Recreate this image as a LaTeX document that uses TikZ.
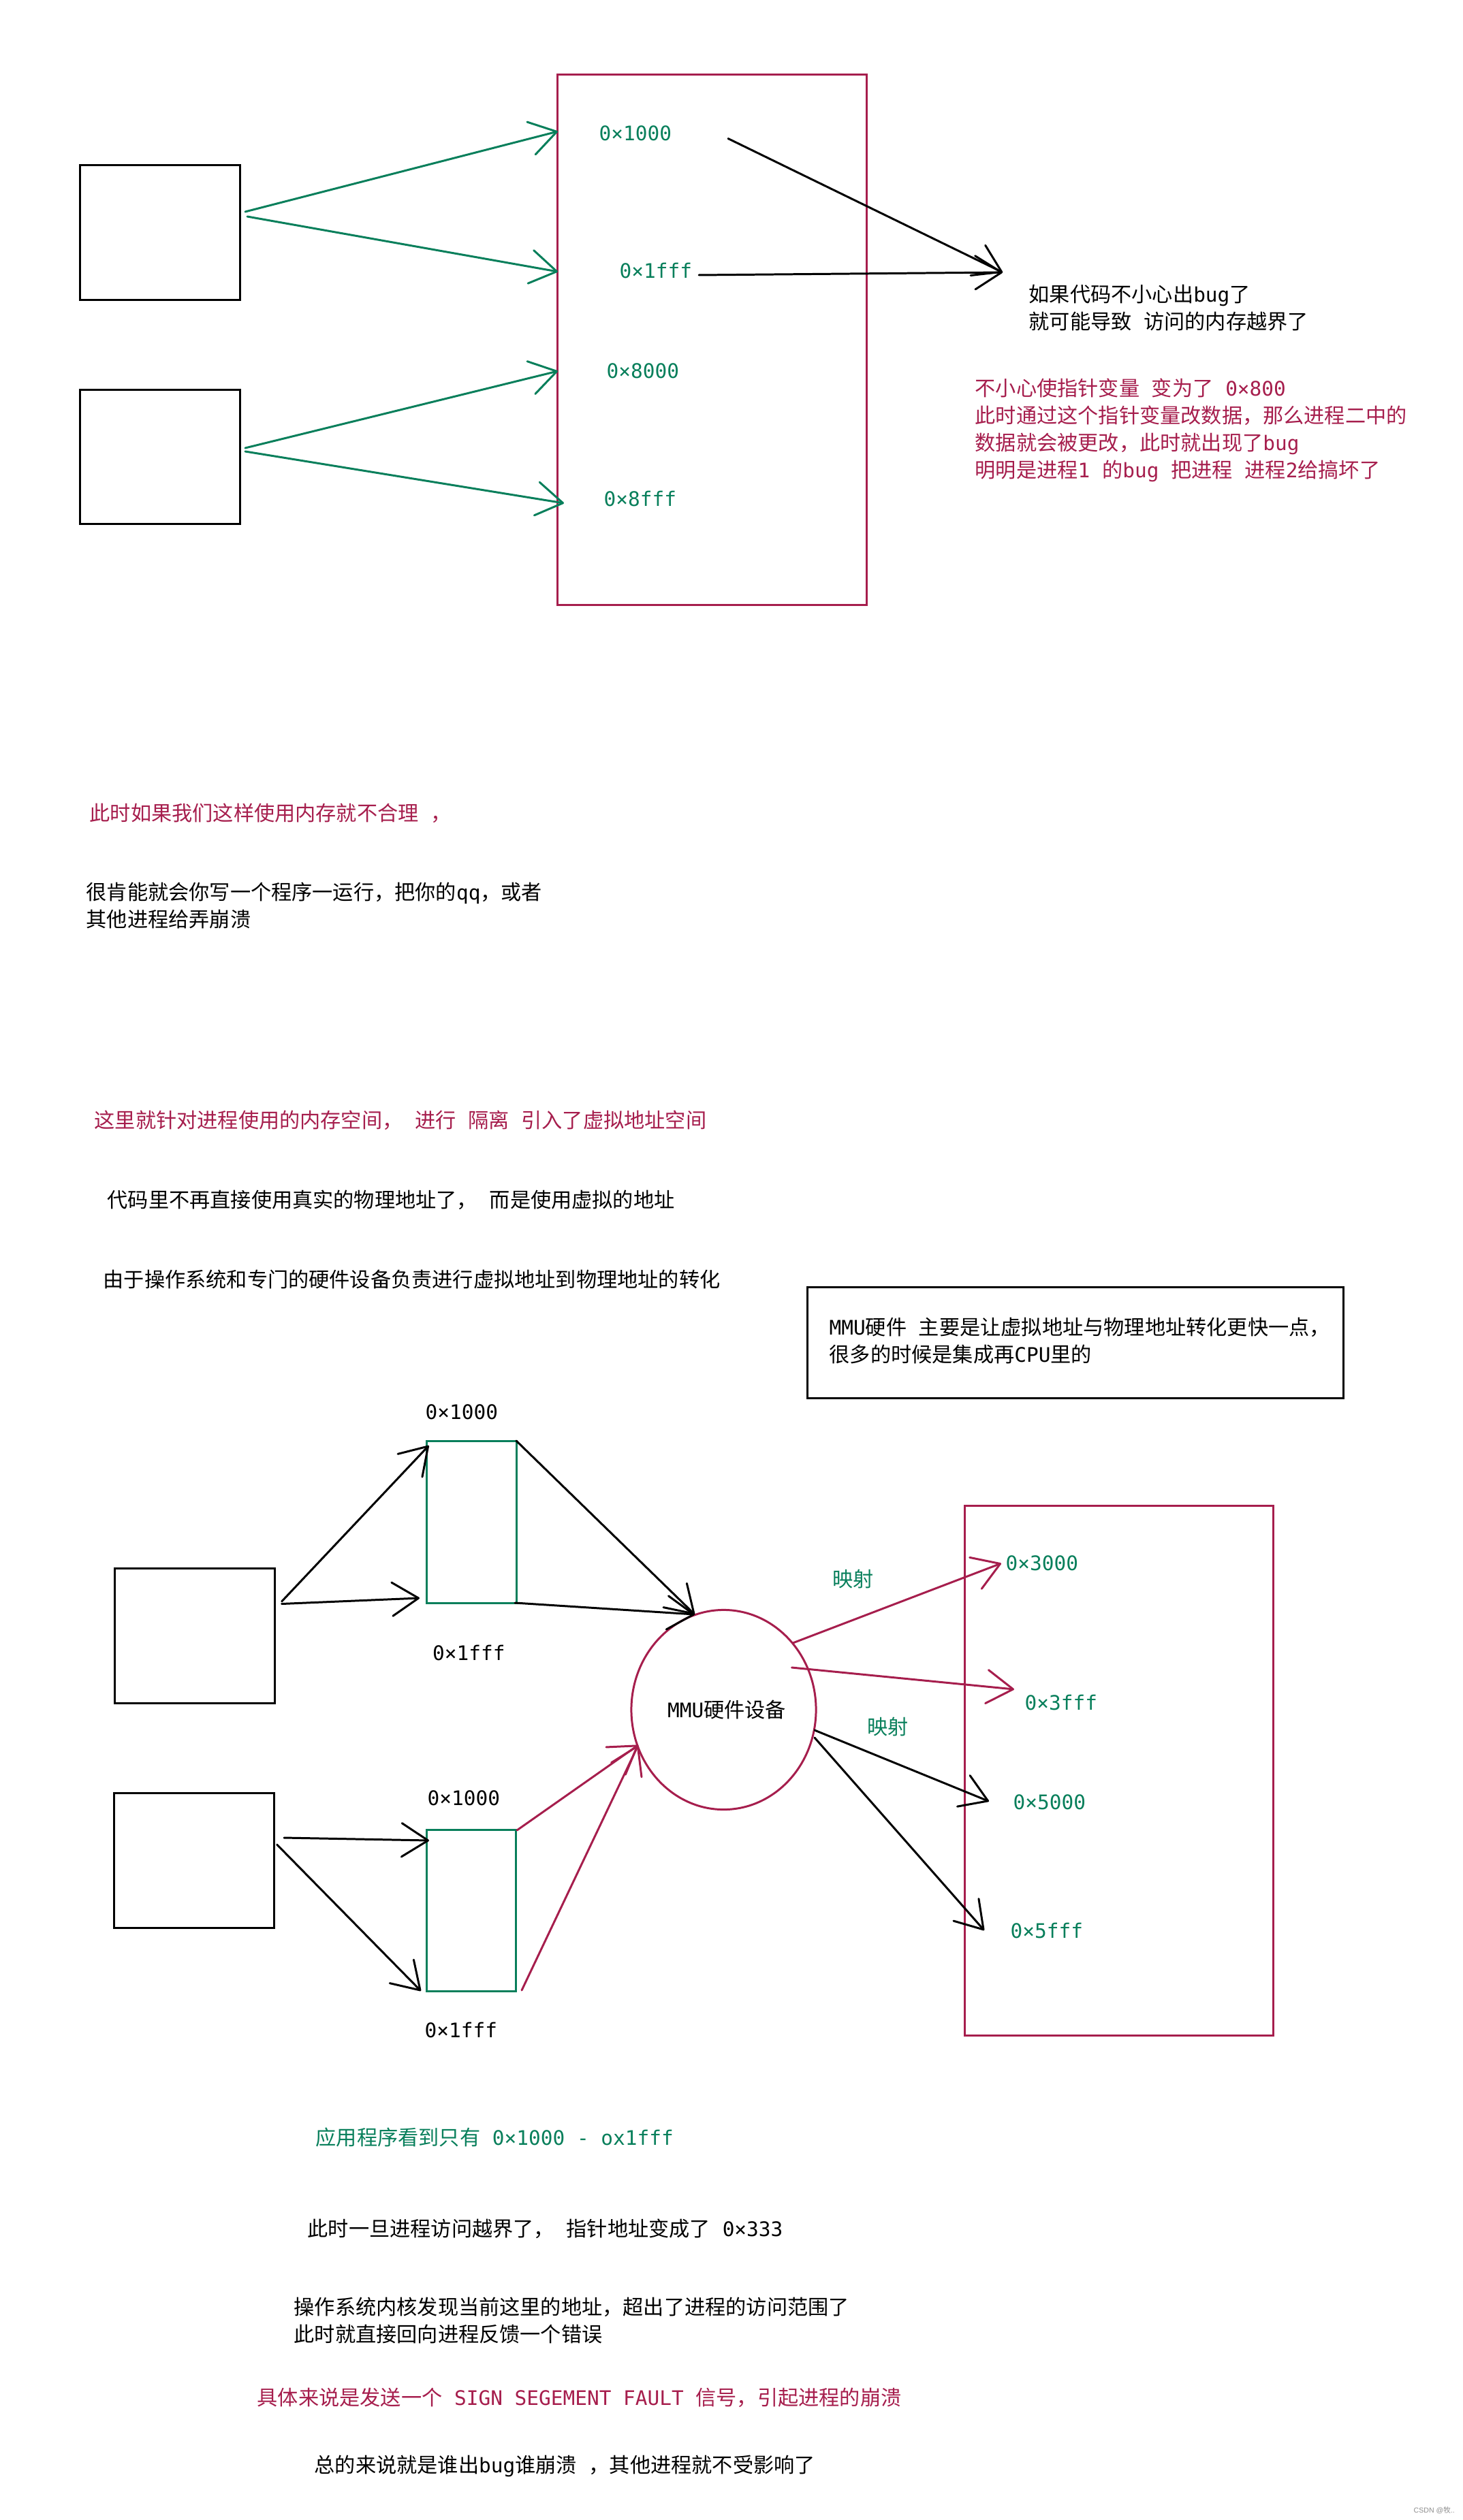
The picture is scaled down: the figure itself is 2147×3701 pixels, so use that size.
\documentclass[tikz,border=0pt]{standalone}
\usepackage{fontspec}
\setmainfont[Scale=0.975]{DejaVu Sans Mono}
\newfontfamily\cjk{Noto Sans CJK SC}
\newfontfamily\wmfont{Liberation Sans}
\newcommand{\zh}[1]{{\cjk #1}}
\usepackage{xcolor}
\usetikzlibrary{positioning}
\usetikzlibrary{arrows.meta}
\usetikzlibrary{shapes.geometric}
\definecolor{memred}{HTML}{A61E4D}
\definecolor{memgreen}{HTML}{087F5B}
\tikzstyle{textblock}=[anchor=west,inner sep=0pt,align=left,font=\fontsize{8.585}{11.38}\selectfont]
\tikzstyle{redtext}=[textblock,text=memred]
\tikzstyle{greentext}=[textblock,text=memgreen]
\tikzstyle{procbox}=[rectangle,draw=black,line width=0.85pt,minimum width=2.34cm,minimum height=1.97cm,inner sep=0pt]
\tikzstyle{membox}=[rectangle,draw=memred,line width=0.85pt,minimum width=4.53cm,minimum height=7.78cm,inner sep=0pt]
\tikzstyle{virtbox}=[rectangle,draw=memgreen,line width=0.85pt,minimum width=1.31cm,minimum height=2.37cm,inner sep=0pt]
\tikzstyle{edge} = [draw,line width=0.85pt,line cap=round,-{Straight Barb[round,length=11pt,width=14pt]}]
\tikzstyle{greenedge} = [edge,draw=memgreen]
\tikzstyle{rededge} = [edge,draw=memred]
\begin{document}
\begin{tikzpicture}[x=0.01cm,y=-0.01cm]
	\useasboundingbox (0,0) rectangle (2147,3701);

%top part: boxes
    \foreach \pos/\name in {(235,341.5)/procA, (235,671)/procB, (286,2402.5)/procC, (285,2732.5)/procD}
        \node[procbox] (\name) at \pos {};
    \foreach \pos/\name in {(1045.5,499)/phyTop, (1643,2600.5)/phyBottom}
        \node[membox] (\name) at \pos {};

%top part: addresses
    \foreach \pos/\name/\label in {(879,196)/addrA/0×1000, (909,398)/addrB/0×1fff, (890,545)/addrC/0×8000, (886,733)/addrD/0×8fff}
        \node[greentext] (\name) at \pos {\label};

%top part: ends of the arrows
    \foreach \pos/\name in {(360,311)/aOne, (363,318)/aTwo, (360,658)/bOne, (360,663)/bTwo,
                            (819,193)/aOneEnd, (819,399)/aTwoEnd, (819,545)/bOneEnd, (828,739)/bTwoEnd,
                            (1069,203.5)/ptrOne, (1026,404)/ptrTwo, (1472,400)/ptrEnd}
        \node[coordinate] (\name) at \pos {};

    \foreach \source/ \dest in {aOne/aOneEnd, aTwo/aTwoEnd, bOne/bOneEnd, bTwo/bTwoEnd}
        \path[greenedge] (\source) -- (\dest);
    \foreach \source/ \dest in {ptrOne/ptrEnd, ptrTwo/ptrEnd}
        \path[edge] (\source) -- (\dest);

%top part: text
    \node[textblock] (bugnote) at (1510,452.5) {\zh{如果代码不小心出}bug\zh{了}\\\zh{就可能导致} \zh{访问的内存越界了}};
    \node[redtext] (rednote) at (1431,632) {\zh{不小心使指针变量} \zh{变为了} 0×800\\\zh{此时通过这个指针变量改数据，那么进程二中的}\\\zh{数据就会被更改，此时就出现了}bug\\\zh{明明是进程}1 \zh{的}bug \zh{把进程} \zh{进程}2\zh{给搞坏了}};

    \node[redtext] (unreasonable) at (131,1194) {\zh{此时如果我们这样使用内存就不合理} \zh{，}};
    \node[textblock] (crash) at (126,1330) {\zh{很肯能就会你写一个程序一运行，把你的}qq\zh{，或者}\\\zh{其他进程给弄崩溃}};
    \node[redtext] (isolate) at (138,1645) {\zh{这里就针对进程使用的内存空间，} \zh{进行} \zh{隔离} \zh{引入了虚拟地址空间}};
    \node[textblock] (nophys) at (157,1762) {\zh{代码里不再直接使用真实的物理地址了，} \zh{而是使用虚拟的地址}};
    \node[textblock] (convert) at (151,1879) {\zh{由于操作系统和专门的硬件设备负责进行虚拟地址到物理地址的转化}};

%mmu note
    \node[rectangle,draw=black,line width=0.85pt,minimum width=7.86cm,minimum height=1.63cm] (mmubox) at (1579,1972) {};
    \node[textblock] (mmunote) at (1217,1969) {MMU\zh{硬件} \zh{主要是让虚拟地址与物理地址转化更快一点，}\\\zh{很多的时候是集成再}CPU\zh{里的}};

%bottom part: boxes
    \foreach \pos/\name in {(692.5,2235.5)/virtA, (692,2806)/virtB}
        \node[virtbox] (\name) at \pos {};
    \node[ellipse,draw=memred,line width=0.85pt,minimum width=2.71cm,minimum height=2.93cm,inner sep=0pt,font=\fontsize{8.585}{11.38}\selectfont] (mmu) at (1062.5,2511) {\hspace*{2.6pt}MMU\zh{硬件设备}};

%bottom part: addresses
    \foreach \pos/\name/\label in {(624,2074)/topA/0×1000, (634.5,2428)/topB/0×1fff, (627,2641)/lowA/0×1000, (623,2981)/lowB/0×1fff}
        \node[textblock] (\name) at \pos {\label};
    \foreach \pos/\name/\label in {(1476,2296)/phyA/0×3000, (1504,2501)/phyB/0×3fff, (1487,2647)/phyC/0×5000, (1483,2835)/phyD/0×5fff}
        \node[greentext] (\name) at \pos {\label};
    \node[greentext] (mapOne) at (1222,2319) {\zh{映射}};
    \node[greentext] (mapTwo) at (1273,2536) {\zh{映射}};

%bottom part: ends of the arrows
    \foreach \pos/\name in {(413.6,2352)/cOne, (413.6,2355.5)/cTwo, (629.6,2123)/cOneEnd, (616,2347)/cTwoEnd,
                            (417,2699)/dOne, (406.6,2709)/dTwo, (630,2703)/dOneEnd, (618,2924)/dTwoEnd,
                            (758,2116)/eOne, (756,2354)/eTwo, (1020,2371)/eEnd,
                            (759,2688)/fOne, (766,2923)/fTwo, (937,2563)/fEnd,
                            (1164,2413)/rOne, (1162.5,2449)/rTwo, (1470,2296)/rOneEnd, (1489,2481)/rTwoEnd,
                            (1196,2541)/kOne, (1196,2552)/kTwo, (1452,2645.5)/kOneEnd, (1445,2835)/kTwoEnd}
        \node[coordinate] (\name) at \pos {};

    \foreach \source/ \dest in {cOne/cOneEnd, cTwo/cTwoEnd, dOne/dOneEnd, dTwo/dTwoEnd, eOne/eEnd, eTwo/eEnd, kOne/kOneEnd, kTwo/kTwoEnd}
        \path[edge] (\source) -- (\dest);
    \foreach \source/ \dest in {fOne/fEnd, fTwo/fEnd, rOne/rOneEnd, rTwo/rTwoEnd}
        \path[rededge] (\source) -- (\dest);

%bottom text
    \node[greentext] (appview) at (463,3139) {\zh{应用程序看到只有} 0×1000 - ox1fff};
    \node[textblock] (outrange) at (451,3273) {\zh{此时一旦进程访问越界了，} \zh{指针地址变成了} 0×333};
    \node[textblock] (kernel) at (431,3408) {\zh{操作系统内核发现当前这里的地址，超出了进程的访问范围了}\\\zh{此时就直接回向进程反馈一个错误}};
    \node[redtext] (signal) at (377,3521) {\zh{具体来说是发送一个} SIGN SEGEMENT FAULT \zh{信号，引起进程的崩溃}};
    \node[textblock] (summary) at (461,3622) {\zh{总的来说就是谁出}bug\zh{谁崩溃} \zh{，其他进程就不受影响了}};
    \node[anchor=west,inner sep=0pt,text=black!45,font=\wmfont\fontsize{3}{4}\selectfont] (mark) at (2075,3687) {CSDN @\zh{牧}..};
\end{tikzpicture}
\end{document}
